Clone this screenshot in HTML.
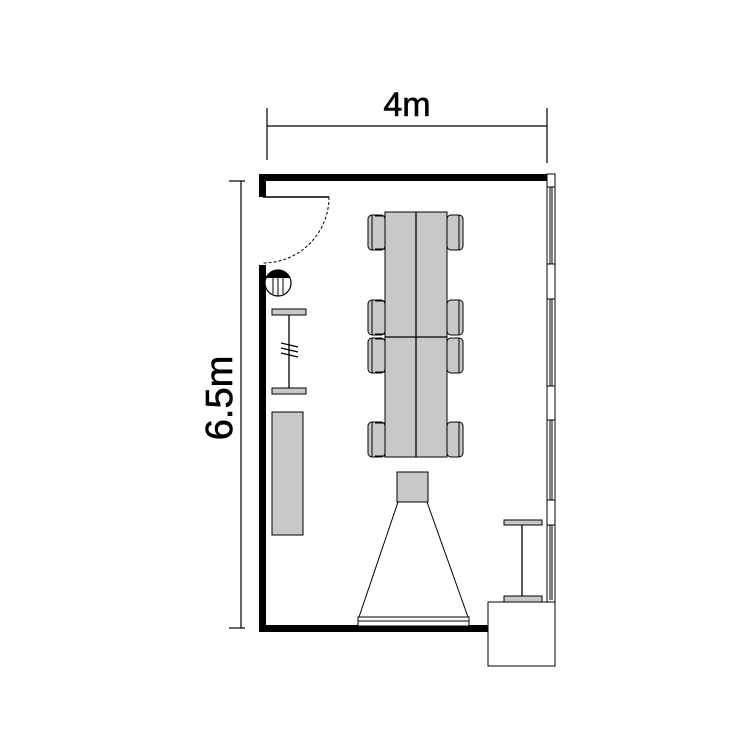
<!DOCTYPE html>
<html><head><meta charset="utf-8"><style>body{margin:0;background:#fff}</style></head><body>
<svg width="750" height="750" viewBox="0 0 750 750" xmlns="http://www.w3.org/2000/svg">
<rect width="750" height="750" fill="#fff"/>
<g stroke="#000" stroke-width="1.2" fill="none">
<line x1="267" y1="126" x2="547" y2="126"/>
<line x1="267" y1="108" x2="267" y2="160"/>
<line x1="547" y1="108" x2="547" y2="163"/>
<line x1="241" y1="181" x2="241" y2="628"/>
<line x1="229" y1="181" x2="245" y2="181"/>
<line x1="229" y1="628" x2="245" y2="628"/>
</g>
<text x="407" y="116" font-family="Liberation Sans, sans-serif" font-size="34" text-anchor="middle" stroke="#000" stroke-width="0.6">4m</text>
<text transform="translate(232,398) rotate(-90)" font-family="Liberation Sans, sans-serif" font-size="38" text-anchor="middle" stroke="#000" stroke-width="0.6">6.5m</text>
<g fill="#000">
<rect x="259" y="174" width="290" height="7"/>
<rect x="259" y="174" width="7" height="23"/>
<rect x="259" y="265" width="7" height="367"/>
<rect x="259" y="625" width="229" height="7"/>
</g>
<line x1="263" y1="197" x2="329" y2="197" stroke="#000" stroke-width="1.5"/>
<path d="M329,197 A66,66 0 0 1 263,263" stroke="#000" stroke-width="1" stroke-dasharray="3,2" fill="none"/>
<circle cx="278" cy="283" r="13" fill="#fff" stroke="#000" stroke-width="1.2"/>
<path d="M266,278 A13,13 0 0 1 290,278 Z" fill="#000"/>
<line x1="273" y1="278" x2="273" y2="294" stroke="#000"/><line x1="278" y1="278" x2="278" y2="296" stroke="#000"/><line x1="283" y1="278" x2="283" y2="294" stroke="#000"/>
<g stroke="#000" stroke-width="1" fill="#c8c8c8">
<rect x="272" y="309" width="34" height="6"/>
<rect x="272" y="388" width="34" height="6"/>
<rect x="272" y="412" width="31" height="123"/>
<rect x="385" y="212" width="62" height="245"/>
<rect x="397" y="472" width="31" height="30"/>
<rect x="504" y="520" width="38" height="5"/>
<rect x="504" y="596" width="38" height="6"/>
</g>
<g stroke="#000" stroke-width="1.3">
<line x1="289" y1="315" x2="289" y2="388"/>
<line x1="281" y1="343" x2="298" y2="347"/><line x1="281" y1="348" x2="298" y2="352"/><line x1="281" y1="353" x2="298" y2="357"/>
<line x1="416" y1="212" x2="416" y2="457"/>
<line x1="385" y1="337" x2="447" y2="337"/>
<line x1="522" y1="525" x2="522" y2="596"/>
</g>
<g stroke="#000" stroke-width="1" fill="#c8c8c8">
<g id="cl"><rect x="368" y="215" width="17" height="35" rx="4"/><line x1="372" y1="215" x2="372" y2="250"/><line x1="375" y1="216" x2="385" y2="216"/><line x1="375" y1="249" x2="385" y2="249"/></g>
<use href="#cl" y="85"/><use href="#cl" y="123"/><use href="#cl" y="207"/>
<g id="cr"><rect x="447" y="215" width="16" height="35" rx="4"/><line x1="459" y1="215" x2="459" y2="250"/></g>
<use href="#cr" y="85"/><use href="#cr" y="123"/><use href="#cr" y="207"/>
</g>
<g stroke="#000" stroke-width="1" fill="none">
<line x1="398" y1="502" x2="359" y2="617"/>
<line x1="427" y1="502" x2="468" y2="617"/>
<rect x="358" y="617" width="111" height="9" fill="#fff"/>
<line x1="358" y1="621" x2="469" y2="621"/>
<rect x="547" y="174" width="8" height="428" fill="#fff"/>
<line x1="550" y1="187" x2="550" y2="264"/><line x1="552" y1="187" x2="552" y2="264"/>
<line x1="547" y1="264" x2="555" y2="264"/><line x1="547" y1="299" x2="555" y2="299"/>
<line x1="550" y1="299" x2="550" y2="386"/><line x1="552" y1="299" x2="552" y2="386"/>
<line x1="547" y1="386" x2="555" y2="386"/><line x1="547" y1="420" x2="555" y2="420"/>
<line x1="550" y1="420" x2="550" y2="500"/><line x1="552" y1="420" x2="552" y2="500"/>
<line x1="547" y1="500" x2="555" y2="500"/><line x1="547" y1="525" x2="555" y2="525"/>
<line x1="550" y1="525" x2="550" y2="600"/><line x1="552" y1="525" x2="552" y2="600"/>
<line x1="547" y1="187" x2="555" y2="187"/>
<rect x="488" y="602" width="67" height="64" fill="#fff"/>
</g>
</svg>
</body></html>
